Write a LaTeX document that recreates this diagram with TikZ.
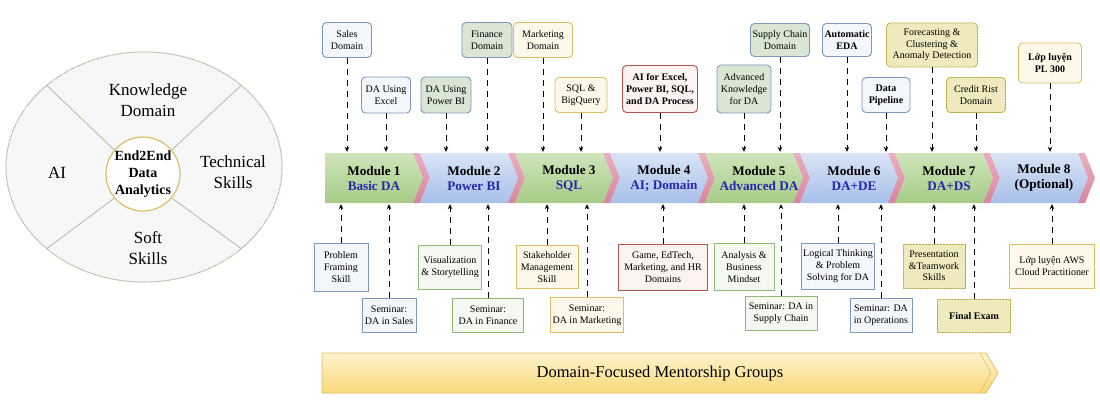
\documentclass[tikz,border=0pt]{standalone}
\usepackage{fontspec}
\setmainfont{Liberation Serif}
\usepackage{tikz}
\usetikzlibrary{positioning, arrows.meta, shapes.geometric, patterns}

\definecolor{bluestroke}{HTML}{7D98BE}
\definecolor{bluefill}{HTML}{F3F6FB}
\definecolor{greenfill}{HTML}{D9E6D3}
\definecolor{greenstroke}{HTML}{8DB877}
\definecolor{greenpale}{HTML}{F4F8F1}
\definecolor{goldstroke}{HTML}{DDBE62}
\definecolor{goldfill}{HTML}{FDF8EA}
\definecolor{redstroke}{HTML}{B9534F}
\definecolor{redfill}{HTML}{FBF2F1}
\definecolor{olivestroke}{HTML}{BBAD45}
\definecolor{olivefill}{HTML}{F6F0C4}
\definecolor{mblue}{HTML}{2626AE}
\definecolor{ringline}{HTML}{B7C1A8}
\definecolor{greentop}{HTML}{CFE5BB}
\definecolor{greenbot}{HTML}{A6CB86}
\definecolor{bluetop}{HTML}{D9E4F6}
\definecolor{bluebot}{HTML}{A8BFE9}
\definecolor{pinktop}{HTML}{EBAFC1}
\definecolor{pinkbot}{HTML}{D6869F}
\definecolor{sunbot}{HTML}{F9D878}
\definecolor{suntop}{HTML}{FEF3CF}

\tikzset{
  tag/.style={align=center, inner sep=2pt, line width=0.9pt, rounded corners=4pt,
    font=\fontsize{10}{11.7}\selectfont},
  flat/.style={tag, rounded corners=0pt},
  cblue/.style={draw=bluestroke, fill=bluefill},
  cgreen/.style={draw=bluestroke, fill=greenfill},
  cgreenb/.style={draw=greenstroke, fill=greenpale},
  cgold/.style={draw=goldstroke, fill=goldfill},
  cred/.style={draw=redstroke, fill=redfill},
  colive/.style={draw=olivestroke, fill=olivefill,
    postaction={pattern=north east lines, pattern color=olivestroke!40}},
  link/.style={line width=0.8pt, dash pattern=on 6pt off 5pt,
    -{Stealth[length=5pt, width=4.5pt]}},
  modgreen/.style={top color=greentop, bottom color=greenbot},
  modblue/.style={top color=bluetop, bottom color=bluebot},
  pinkstrip/.style={top color=pinktop, bottom color=pinkbot},
  modtext/.style={align=center, font=\bfseries\fontsize{13.2}{15}\selectfont},
  slice/.style={font=\fontsize{17}{20.5}\selectfont, align=center}
}

\begin{document}
\begin{tikzpicture}[x=1pt, y=-1pt]
\useasboundingbox (0,0) rectangle (1100,401);

% left: ring of skills
\node[ellipse, draw=ringline, line width=1pt, fill=black!2!white,
  postaction={pattern=north east lines, pattern color=black!5},
  minimum width=276pt, minimum height=230pt] (ring) at (144,167) {};
\node[circle, draw=goldstroke, line width=1.2pt, fill=white,
  minimum size=74pt, inner sep=0pt, align=center,
  font=\bfseries\fontsize{14}{17}\selectfont] (core) at (143,174) {End2End\\Data\\Analytics};
\foreach \a in {140,40,220,320}
  \draw[ringline, line width=0.9pt] (core.\a) -- (ring.\a);
\node[slice] (know) at (148,100) {Knowledge\\Domain};
\node[slice] (ai) at (57,173) {AI};
\node[slice] (tech) at (233,172) {Technical\\Skills};
\node[slice] (soft) at (148,248) {Soft\\Skills};

% module bar
\foreach \i/\kind/\sub/\subcol in {1/modgreen/Basic DA/mblue, 2/modblue/Power BI/mblue,
    3/modgreen/SQL/mblue, 4/modblue/AI; Domain/mblue, 5/modgreen/Advanced DA/mblue,
    6/modblue/DA+DE/mblue, 7/modgreen/DA+DS/mblue, 8/modblue/{(Optional)}/black} {
  \pgfmathsetmacro{\xs}{325+(\i-1)*95}
  \pgfmathsetmacro{\xe}{\xs+88}
  \pgfmathsetmacro{\nt}{\i==1 ? 0 : 10}
  \path[\kind] (\xs,153) -- (\xe,153) -- (\xe+10,178) -- (\xe,203) -- (\xs,203) -- (\xs+\nt,178) -- cycle;
  \path[pinkstrip] (\xe,153) -- (\xe+7,153) -- (\xe+17,178) -- (\xe+7,203) -- (\xe,203) -- (\xe+10,178) -- cycle;
  \node[modtext] (m\i) at (\xs+49+\nt/2,178) {Module \i\\\textcolor{\subcol}{\sub}};
}
\node[minimum width=770pt, minimum height=50pt, inner sep=0pt] (bar) at (710,178) {};

% top boxes
\node[tag, cblue, minimum width=49pt, minimum height=35pt] (sales) at (347,40) {Sales\\Domain};
\node[tag, cblue, minimum width=49pt, minimum height=36pt] (excel) at (386,95) {DA Using\\Excel};
\node[tag, cgreen, minimum width=50pt, minimum height=36pt] (pbi) at (446,95) {DA Using\\Power BI};
\node[tag, cgreen, minimum width=50pt, minimum height=35pt] (finance) at (487,40) {Finance\\Domain};
\node[tag, cgold, minimum width=59pt, minimum height=35pt] (mkt) at (543,40) {Marketing\\Domain};
\node[tag, cgold, minimum width=52pt, minimum height=35pt] (sqlbq) at (581,95) {SQL \&\\BigQuery};
\node[tag, cred, font=\bfseries\fontsize{10}{11.7}\selectfont,
  minimum width=75pt, minimum height=47pt] (aiall) at (660,89) {AI for Excel,\\Power BI, SQL,\\and DA Process};
\node[tag, cgreen, minimum width=54pt, minimum height=48pt] (advk) at (744,89) {Advanced\\Knowledge\\for DA};
\node[tag, cgreen, minimum width=59pt, minimum height=33pt] (supply) at (780,40) {Supply Chain\\Domain};
\node[tag, cblue, font=\bfseries\fontsize{10}{11.7}\selectfont,
  minimum width=49pt, minimum height=33pt] (autoeda) at (847,40) {Automatic\\EDA};
\node[tag, cblue, font=\bfseries\fontsize{10}{11.7}\selectfont,
  minimum width=48pt, minimum height=35pt] (pipe) at (886,95) {Data\\Pipeline};
\node[tag, colive, minimum width=91pt, minimum height=44pt] (fcast) at (932,45) {Forecasting \&\\Clustering \&\\Anomaly Detection};
\node[tag, colive, minimum width=59pt, minimum height=35pt] (credit) at (976,95) {Credit Rist\\Domain};
\node[tag, cgold, font=\bfseries\fontsize{10}{11.7}\selectfont,
  minimum width=63pt, minimum height=40pt] (pl300) at (1050,63) {Lớp luyện\\PL 300};

\foreach \b in {sales,excel,pbi,finance,mkt,sqlbq,aiall,advk,supply,autoeda,pipe,fcast,credit,pl300}
  \draw[link, shorten >=1pt] (\b) -- (\b |- bar.north);

% bottom boxes
\node[flat, cblue, minimum width=54pt, minimum height=48pt] (frame) at (341,267) {Problem\\Framing\\Skill};
\node[flat, cblue, minimum width=54pt, minimum height=34pt] (semsales) at (389,315) {Seminar:\\DA in Sales};
\node[flat, cgreenb, minimum width=63pt, minimum height=44pt] (visual) at (450,267) {Visualization\\\& Storytelling};
\node[flat, cgreenb, minimum width=71pt, minimum height=34pt] (semfin) at (488,315) {Seminar:\\DA in Finance};
\node[flat, cgold, minimum width=62pt, minimum height=43pt] (stake) at (547,267) {Stakeholder\\Management\\Skill};
\node[flat, cgold, minimum width=72pt, minimum height=35pt] (semmkt) at (587,315) {Seminar:\\DA in Marketing};
\node[flat, cred, minimum width=89pt, minimum height=46pt] (game) at (663,267) {Game, EdTech,\\Marketing, and HR\\Domains};
\node[flat, cgreenb, minimum width=60pt, minimum height=47pt] (biz) at (744,267) {Analysis \&\\Business\\Mindset};
\node[flat, cgreenb, minimum width=72pt, minimum height=34pt] (semsc) at (781,313) {Seminar: DA in\\Supply Chain};
\node[flat, cblue, minimum width=73pt, minimum height=46pt] (logic) at (838,266) {Logical Thinking\\\& Problem\\Solving for DA};
\node[flat, cblue, minimum width=62pt, minimum height=34pt] (semops) at (881,315) {Seminar: DA\\in Operations};
\node[flat, colive, minimum width=62pt, minimum height=44pt] (present) at (934,266) {Presentation\\\&Teamwork\\Skills};
\node[flat, colive, font=\bfseries\fontsize{10}{11.7}\selectfont,
  minimum width=73pt, minimum height=33pt] (exam) at (974,316) {Final Exam};
\node[flat, cgold, minimum width=85pt, minimum height=44pt] (aws) at (1052,266) {Lớp luyện AWS\\Cloud Practitioner};

\foreach \b in {frame,semsales,visual,semfin,stake,semmkt,game,biz,semsc,logic,semops,present,exam,aws}
  \draw[link, shorten >=1pt] (\b) -- (\b |- bar.south);

% mentorship bar
\path[top color=suntop, bottom color=sunbot, draw=goldstroke, line width=0.8pt]
  (322,353) -- (986,353) -- (998,373) -- (986,393) -- (322,393) -- cycle;
\draw[goldstroke, line width=0.6pt] (980,353) -- (991,373) -- (980,393);
\node[font=\fontsize{16.5}{20}\selectfont] (mentor) at (660,374) {Domain-Focused Mentorship Groups};
\end{tikzpicture}
\end{document}
